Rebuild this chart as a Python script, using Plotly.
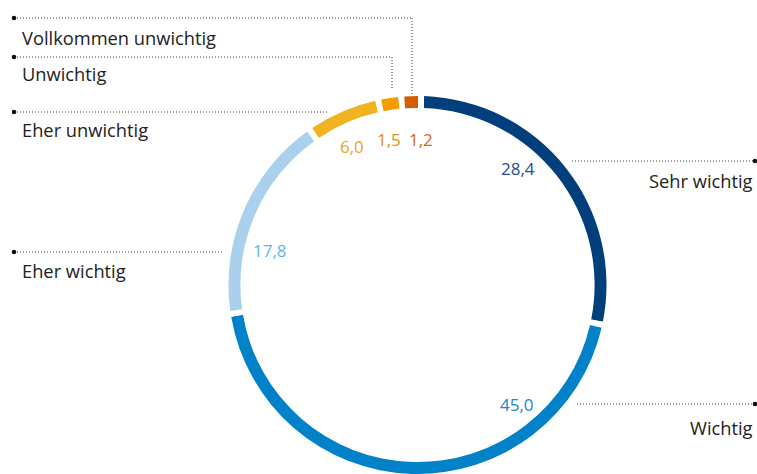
import plotly.graph_objects as go

# ---- data ----
categories = ["Sehr wichtig", "Wichtig", "Eher wichtig", "Eher unwichtig", "Unwichtig", "Vollkommen unwichtig"]
values = [28.4, 45.0, 17.8, 6.0, 1.5, 1.2]
value_labels = ["28,4", "45,0", "17,8", "6,0", "1,5", "1,2"]
ring_colors = ["#003f7b", "#0081c8", "#a9d0ec", "#f1b322", "#f49c00", "#d25f00"]
text_colors = ["#1d4f8b", "#1889cf", "#5db6e7", "#f0a21c", "#ec8a12", "#d4680e"]

W, H = 757, 474
GAP = 0.52  # white separator between segments


def px(x):
    return x / W


def py(y):
    return 1 - y / H


# interleave segments with white gaps
pie_labels, pie_values, pie_colors = [], [], []
for i, (c, v, col) in enumerate(zip(categories, values, ring_colors)):
    pie_labels += [c, f"_gap{i}"]
    pie_values += [v, GAP]
    pie_colors += [col, "#ffffff"]

cx, cy, R = 417.5, 285.0, 189.0
fig = go.Figure(go.Pie(
    labels=pie_labels, values=pie_values, sort=False, direction="clockwise",
    rotation=2, hole=0.937, textinfo="none", hoverinfo="skip", showlegend=False,
    marker=dict(colors=pie_colors, line=dict(width=0)),
    domain=dict(x=[px(cx - R), px(cx + R)], y=[py(cy + R), py(cy - R)]),
))

font = "'Open Sans', Lato, sans-serif"
text_col = "#222222"
annotations = []
shapes = []

# value labels inside the ring
val_pos = [(517.5, 168), (517, 404), (270, 250), (352, 146), (389, 140), (421, 140)]
for lab, col, (x, y) in zip(value_labels, text_colors, val_pos):
    annotations.append(dict(x=px(x), y=py(y), xref="paper", yref="paper", text=lab,
                            showarrow=False, xanchor="center", yanchor="middle",
                            font=dict(family=font, size=17, color=col)))

# leader lines: (category, side, line_y, x_near_ring, vertical_end_y, text_y)
leaders = [
    ("Sehr wichtig", "right", 161, 572, None, 180),
    ("Wichtig", "right", 404, 577, None, 427),
    ("Eher wichtig", "left", 252, 224, None, 270),
    ("Eher unwichtig", "left", 112, 327, None, 129),
    ("Unwichtig", "left", 57, 392, 90, 74),
    ("Vollkommen unwichtig", "left", 18, 412, 95, 37),
]
dot_line = dict(color="#333333", width=1, dash="1px,2px")
for name, side, ly, xr, vend, ty in leaders:
    if side == "left":
        x0, x1, dotx = 14, xr, 14
        annotations.append(dict(x=px(20), y=py(ty), xref="paper", yref="paper", text=name,
                                showarrow=False, xanchor="left", yanchor="middle",
                                font=dict(family=font, size=18.3, color=text_col)))
    else:
        x0, x1, dotx = xr, 755, 755
        annotations.append(dict(x=px(755), y=py(ty), xref="paper", yref="paper", text=name,
                                showarrow=False, xanchor="right", yanchor="middle",
                                font=dict(family=font, size=18.3, color=text_col)))
    shapes.append(dict(type="line", xref="paper", yref="paper", x0=px(x0), x1=px(x1),
                       y0=py(ly), y1=py(ly), line=dot_line))
    if vend is not None:
        shapes.append(dict(type="line", xref="paper", yref="paper", x0=px(xr), x1=px(xr),
                           y0=py(ly), y1=py(vend), line=dot_line))
    r = 2.3
    shapes.append(dict(type="circle", xref="paper", yref="paper",
                       x0=px(dotx - r), x1=px(dotx + r), y0=py(ly + r), y1=py(ly - r),
                       fillcolor="#111111", line=dict(width=0)))

fig.update_layout(width=W, height=H, margin=dict(l=0, r=0, t=0, b=0),
                  paper_bgcolor="white", plot_bgcolor="white",
                  annotations=annotations, shapes=shapes)
fig.write_html("out.html")
